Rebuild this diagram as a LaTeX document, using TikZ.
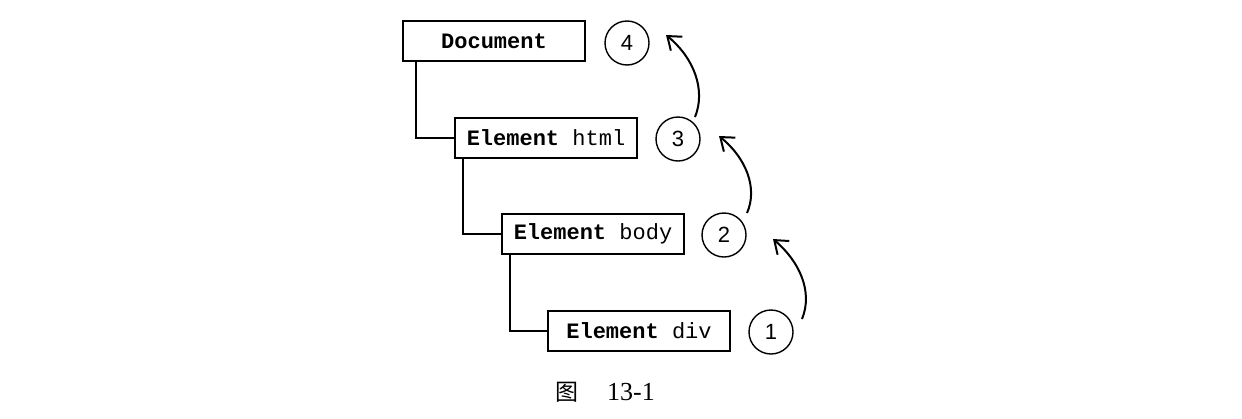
\documentclass[tikz,border=0pt]{standalone}
\usepackage{fontspec}
\setmainfont{Liberation Serif}
\setmonofont{Liberation Mono}
\setsansfont{Liberation Sans}
\newfontfamily\cjkfont{Noto Sans CJK SC}
\usetikzlibrary{arrows.meta}
\begin{document}
\begin{tikzpicture}[x=0.5pt,y=-0.5pt,
  elbox/.style={draw, line width=0.9pt, minimum width=91pt, minimum height=20pt, inner sep=0pt, font=\fontsize{11}{12}\selectfont\ttfamily},
  num/.style={circle, draw, line width=0.7pt, minimum size=22pt, inner sep=0pt, font=\fontsize{11}{12}\selectfont\sffamily},
  link/.style={line width=0.9pt},
  uparrow/.style={line width=1pt, -{Straight Barb[length=6pt,width=9pt]}}]
\useasboundingbox (0,0) rectangle (1242,418);
\node[elbox] (doc) at (494,41) {\textbf{Document}};
\node[elbox] (html) at (546,138) {\textbf{Element} html};
\node[elbox] (body) at (593,234) {\textbf{Element} body};
\node[elbox] (div) at (639,331) {\textbf{Element} div};
\node[num] (c4) at (627,43) {4};
\node[num] (c3) at (678,139) {3};
\node[num] (c2) at (724,235) {2};
\node[num] (c1) at (771,332) {1};
\draw[link] ([xshift=7pt]doc.south west) |- (html.west);
\draw[link] ([xshift=4.5pt]html.south west) |- (body.west);
\draw[link] ([xshift=4.5pt]body.south west) |- (div.west);
\coordinate (a1s) at (802,319);
\coordinate (a1e) at (773,239);
\coordinate (a2s) at (747,213);
\coordinate (a2e) at (719,136);
\coordinate (a3s) at (695,117);
\coordinate (a3e) at (666,35);
\draw[uparrow] (a1s) .. controls (813,292) and (800,262) .. (a1e);
\draw[uparrow] (a2s) .. controls (758,188) and (746,158) .. (a2e);
\draw[uparrow] (a3s) .. controls (706,90) and (694,58) .. (a3e);
\node (capfig) at (567,392) {\cjkfont\fontsize{11.5}{12}\selectfont 图};
\node (capnum) at (631,392) {\fontsize{13}{14}\selectfont 13-1};
\end{tikzpicture}
\end{document}
